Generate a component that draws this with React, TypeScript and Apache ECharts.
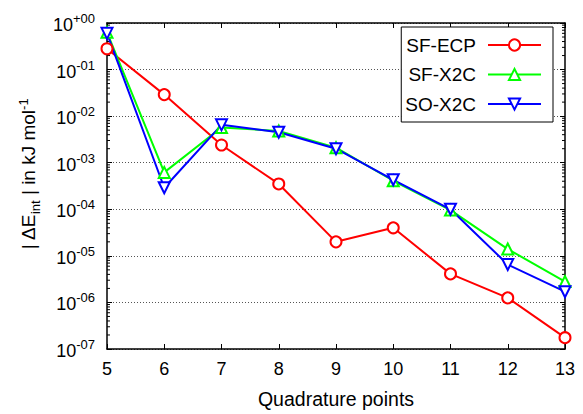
import React, { useEffect, useRef } from "react";
import * as echarts from "echarts";

const quadPoints = [5, 6, 7, 8, 9, 10, 11, 12, 13];
const sfEcp = [0.28, 0.029, 0.0024, 3.5e-4, 2.0e-5, 4.0e-5, 4.1e-6, 1.25e-6, 1.75e-7];
const sfX2c = [0.63, 6.2e-4, 5.7e-3, 4.8e-3, 2.1e-3, 4.1e-4, 9.6e-5, 1.4e-5, 2.8e-6];
const soX2c = [0.6, 2.9e-4, 6.5e-3, 4.5e-3, 2.0e-3, 4.3e-4, 1.0e-4, 6.5e-6, 1.7e-6];
const seriesNames = ["SF-ECP", "SF-X2C", "SO-X2C"];
const decadeExponents = [-7, -6, -5, -4, -3, -2, -1, 0];
const minorMultipliers = [2, 3, 4, 5, 6, 7, 8, 9];

const minorTickValues: number[] = [];
decadeExponents.slice(0, -1).forEach((e) => {
  minorMultipliers.forEach((m) => minorTickValues.push(m * Math.pow(10, e)));
});

const FONT = "'Liberation Sans', Arial, Helvetica, sans-serif";

function expLabel(v: number) {
  const e = Math.round(Math.log10(v));
  const s = (e < 0 ? "-" : "+") + String(Math.abs(e)).padStart(2, "0");
  return "{b|10}{s|" + s + "}";
}

export default function App() {
  const ref = useRef<HTMLDivElement>(null);
  useEffect(() => {
    if (!ref.current) return;
    const chart = echarts.init(ref.current, undefined, { renderer: "svg" });
    const pair = (arr: number[]) => quadPoints.map((x, i) => [x, arr[i]]);
    const lineSeries = (name: string, data: number[], color: string, symbol: string, rotate = 0) => ({
      type: "line",
      name,
      data: pair(data),
      symbol,
      symbolSize: 11,
      symbolRotate: rotate,
      showAllSymbol: true,
      lineStyle: { color, width: 2 },
      itemStyle: { color, borderColor: color, borderWidth: 2 },
      z: 3,
    });
    chart.setOption({
      animation: false,
      textStyle: { fontFamily: FONT },
      grid: { left: 107, right: 18, top: 23, bottom: 61 },
      legend: {
        data: seriesNames,
        orient: "vertical",
        align: "right",
        right: 30,
        top: 27,
        padding: [8, 11, 8, 4],
        itemGap: 9.5,
        itemWidth: 53,
        itemHeight: 14,
        backgroundColor: "#fff",
        borderColor: "#000",
        borderWidth: 1,
        borderRadius: 0,
        textStyle: { fontSize: 19, color: "#000", fontFamily: FONT, lineHeight: 20, padding: [0, 7, 0, 0] },
        z: 10,
      },
      xAxis: [
        {
          type: "value",
          min: 5,
          max: 13,
          interval: 1,
          name: "Quadrature points",
          nameLocation: "middle",
          nameGap: 40,
          nameTextStyle: { fontSize: 19.5, color: "#000", fontFamily: FONT },
          axisLine: { show: true, lineStyle: { color: "#000", width: 1.5 } },
          axisTick: { show: true, inside: true, length: 5, lineStyle: { color: "#000" } },
          axisLabel: { fontSize: 18, color: "#000", margin: 11, fontFamily: FONT },
          splitLine: { show: false },
        },
        {
          type: "value",
          position: "top",
          min: 5,
          max: 13,
          interval: 1,
          axisLine: { show: true, lineStyle: { color: "#000", width: 1.5 } },
          axisTick: { show: true, inside: true, length: 5, lineStyle: { color: "#000" } },
          axisLabel: { show: false },
          splitLine: { show: false },
        },
      ],
      yAxis: [
        {
          type: "log",
          logBase: 10,
          min: 1e-7,
          max: 1,
          name: "| ΔE{sub|int} | in kJ mol{sup|-1}",
          nameLocation: "middle",
          nameGap: 60,
          nameRotate: 90,
          nameTextStyle: {
            fontSize: 19,
            color: "#000",
            fontFamily: FONT,
            padding: [0, 0, 0, 24],
            rich: {
              sub: { fontSize: 13, verticalAlign: "bottom", padding: [0, 0, -4, 0], fontFamily: FONT },
              sup: { fontSize: 13, verticalAlign: "top", padding: [-2, 0, 0, 0], fontFamily: FONT },
            },
          },
          axisLine: { show: true, lineStyle: { color: "#000", width: 1.5 } },
          axisTick: { show: true, inside: true, length: 5, lineStyle: { color: "#000" } },
          axisLabel: {
            margin: 12,
            color: "#000",
            formatter: (v: number) => expLabel(v),
            rich: {
              b: { fontSize: 18, fontFamily: FONT, color: "#000", verticalAlign: "bottom", lineHeight: 22 },
              s: { fontSize: 13, fontFamily: FONT, color: "#000", verticalAlign: "top", lineHeight: 13 },
            },
          },
          splitLine: { show: true, lineStyle: { color: "#555", type: [1, 2], width: 1 } },
        },
        {
          type: "log",
          logBase: 10,
          min: 1e-7,
          max: 1,
          position: "right",
          axisLine: { show: true, lineStyle: { color: "#000", width: 1.5 } },
          axisTick: { show: true, inside: true, length: 5, lineStyle: { color: "#000" } },
          axisLabel: { show: false },
          splitLine: { show: false },
        },
      ],
      series: [
        {
          type: "custom",
          name: "minorTicks",
          silent: true,
          data: minorTickValues.map((v) => [5, v]),
          renderItem: (params: any, api: any) => {
            const cs = params.coordSys;
            const p = api.coord([5, api.value(1)]);
            const y = p[1];
            const left = cs.x;
            const right = cs.x + cs.width;
            const st = { stroke: "#000", lineWidth: 1 };
            return {
              type: "group",
              children: [
                { type: "line", shape: { x1: left, y1: y, x2: left + 3, y2: y }, style: st },
                { type: "line", shape: { x1: right, y1: y, x2: right - 3, y2: y }, style: st },
              ],
            };
          },
          z: 2,
        },
        lineSeries("SF-ECP", sfEcp, "#ff0000", "emptyCircle"),
        lineSeries("SF-X2C", sfX2c, "#00ff00", "emptyTriangle"),
        lineSeries("SO-X2C", soX2c, "#0000ff", "emptyTriangle", 180),
      ],
    });
    return () => chart.dispose();
  }, []);
  return <div ref={ref} style={{ width: 583, height: 414, position: "absolute", left: 0, top: 0 }} />;
}
